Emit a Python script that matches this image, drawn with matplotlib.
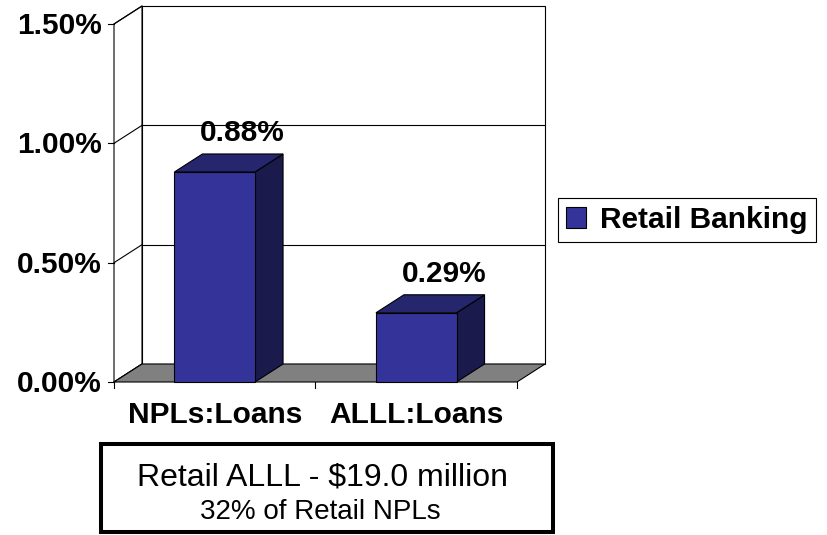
import matplotlib.pyplot as plt
from matplotlib.patches import Polygon, Patch, Rectangle
from matplotlib.lines import Line2D
from matplotlib.transforms import IdentityTransform

# chart data
categories = ["NPLs:Loans", "ALLL:Loans"]
values = [0.88, 0.29]
value_labels = ["0.88%", "0.29%"]
series_name = "Retail Banking"
y_ticks = [0.0, 0.5, 1.0, 1.5]
y_tick_labels = ["0.00%", "0.50%", "1.00%", "1.50%"]
note_title = "Retail ALLL - $19.0 million"
note_sub = "32% of Retail NPLs"

FRONT = "#333399"
TOP = "#26266f"
SIDE = "#1a1a4c"
FLOOR = "#808080"
DEPTH = (28, 18)   # 3d depth offset in pixels
BAR_W = 0.4
LW = 0.8
BOLD = dict(fontsize=21.5, fontweight="bold")

plt.rcParams["font.family"] = ["Liberation Sans", "DejaVu Sans"]

W, H = 828, 535
fig = plt.figure(figsize=(W / 100, H / 100), dpi=100)
ax = fig.add_axes([114 / W, 1 - 382 / H, 403 / W, 358 / H])
ax.set_xlim(-0.5, len(categories) - 0.5)
ax.set_ylim(y_ticks[0], y_ticks[-1])
ax.set_axis_off()


def pt(x, y, d=0.0):
    """data point -> display pixels, shifted back by depth fraction d"""
    px, py = ax.transData.transform((x, y))
    return (px + d * DEPTH[0], py + d * DEPTH[1])


def face(pts, color, z):
    ax.add_patch(Polygon(pts, closed=True, facecolor=color, edgecolor="black",
                         linewidth=LW, transform=IdentityTransform(),
                         clip_on=False, zorder=z))


def seg(p, q, z=2):
    ax.add_line(Line2D([p[0], q[0]], [p[1], q[1]], color="black", linewidth=LW,
                       transform=IdentityTransform(), clip_on=False, zorder=z))


x0, x1 = ax.get_xlim()
y0, y1 = ax.get_ylim()

# walls
face([pt(x0, y0, 1), pt(x1, y0, 1), pt(x1, y1, 1), pt(x0, y1, 1)], "white", 1)
face([pt(x0, y0, 0), pt(x0, y0, 1), pt(x0, y1, 1), pt(x0, y1, 0)], "white", 1)
for v in y_ticks:
    seg(pt(x0, v, 0), pt(x0, v, 1))
    if y0 < v < y1:
        seg(pt(x0, v, 1), pt(x1, v, 1))

# floor
face([pt(x0, y0, 0), pt(x1, y0, 0), pt(x1, y0, 1), pt(x0, y0, 1)], FLOOR, 3)

# ticks
for v in y_ticks:
    p = pt(x0, v)
    seg((p[0] - 6, p[1]), p, 4)
for b in [x0 + k for k in range(len(categories) + 1)]:
    p = pt(b, y0)
    seg(p, (p[0], p[1] - 6), 4)

# bars
for i, v in enumerate(values):
    xl, xr = i - BAR_W / 2, i + BAR_W / 2
    face([pt(xr, 0, 0), pt(xr, 0, 1), pt(xr, v, 1), pt(xr, v, 0)], SIDE, 5)
    face([pt(xl, v, 0), pt(xr, v, 0), pt(xr, v, 1), pt(xl, v, 1)], TOP, 5)
    face([pt(xl, 0), pt(xr, 0), pt(xr, v), pt(xl, v)], FRONT, 6)
    ax.annotate(value_labels[i], xy=(i, v), xytext=(DEPTH[0], DEPTH[1] + 13),
                textcoords="offset pixels", ha="center", va="baseline", **BOLD)
    ax.annotate(categories[i], xy=(i, y0), xytext=(0, -41),
                textcoords="offset pixels", ha="center", va="baseline", **BOLD)

# y tick labels
for v, lbl in zip(y_ticks, y_tick_labels):
    ax.annotate(lbl, xy=(x0, v), xytext=(-12, -10), textcoords="offset pixels",
                ha="right", va="baseline", **BOLD)

# legend
leg = fig.legend(handles=[Patch(facecolor=FRONT, edgecolor="black", linewidth=LW)],
                 labels=[series_name], loc="center left",
                 bbox_to_anchor=(558 / W, 1 - 220 / H), borderaxespad=0,
                 fancybox=False, framealpha=1, edgecolor="black",
                 handlelength=0.67, handleheight=0.67, handletextpad=0.46,
                 borderpad=0.28, prop=dict(size=21.5, weight="bold"))
leg.get_frame().set_linewidth(LW)

# note box under the chart
fig.add_artist(Rectangle((101 / W, 1 - 532 / H), 452 / W, 88 / H,
                         transform=fig.transFigure, facecolor="white",
                         edgecolor="black", linewidth=2.9))
fig.text(323 / W, 1 - 485 / H, note_title, ha="center", va="baseline", fontsize=23)
fig.text(320 / W, 1 - 519 / H, note_sub, ha="center", va="baseline", fontsize=20)

fig.savefig("out.png", dpi=100)
